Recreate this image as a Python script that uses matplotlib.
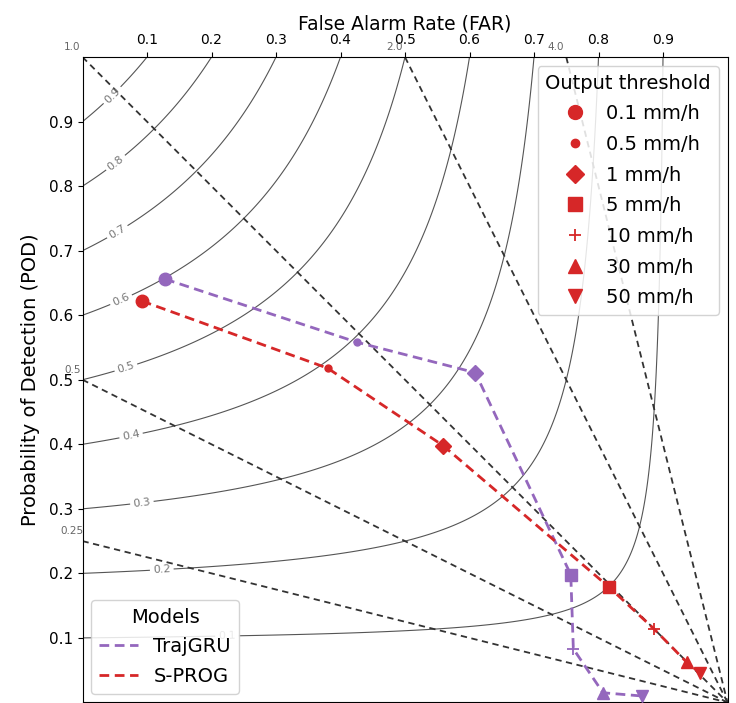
import numpy as np
import matplotlib
matplotlib.use("Agg")
import matplotlib.pyplot as plt
from matplotlib.lines import Line2D

# ---------------- data ----------------
thresholds = ["0.1 mm/h", "0.5 mm/h", "1 mm/h", "5 mm/h", "10 mm/h", "30 mm/h", "50 mm/h"]
markers = ["o", "o", "D", "s", "+", "^", "v"]

trajgru_far = [0.128, 0.426, 0.609, 0.757, 0.761, 0.807, 0.867]
trajgru_pod = [0.656, 0.558, 0.511, 0.198, 0.083, 0.015, 0.010]

sprog_far = [0.092, 0.380, 0.559, 0.816, 0.886, 0.937, 0.957]
sprog_pod = [0.622, 0.518, 0.398, 0.179, 0.114, 0.062, 0.046]

models = ["TrajGRU", "S-PROG"]
model_colors = ["#9467bd", "#d62728"]

csi_levels = [0.1, 0.2, 0.3, 0.4, 0.5, 0.6, 0.7, 0.8, 0.9]
bias_values = [0.25, 0.5, 1.0, 2.0, 4.0]
bias_labels = ["0.25", "0.5", "1.0", "2.0", "4.0"]
far_ticks = [0.1, 0.2, 0.3, 0.4, 0.5, 0.6, 0.7, 0.8, 0.9]
pod_ticks = [0.1, 0.2, 0.3, 0.4, 0.5, 0.6, 0.7, 0.8, 0.9]

# ---------------- figure ----------------
fig = plt.figure(figsize=(7.36, 7.03), dpi=100)
ax = fig.add_axes([82.5 / 736, 0.0008, 645 / 736, 0.918])
ax.set_xlim(0, 1)
ax.set_ylim(0, 1)

# CSI contours
far_g = np.linspace(0.0005, 0.9995, 400)
pod_g = np.linspace(0.0005, 0.9995, 400)
F, P = np.meshgrid(far_g, pod_g)
SR = 1 - F
CSI = 1.0 / (1.0 / SR + 1.0 / P - 1.0)
cs = ax.contour(F, P, CSI, levels=csi_levels, colors="#555555", linewidths=0.8, zorder=1)
label_pos = [(0.224, 0.105), (0.123, 0.204), (0.092, 0.310), (0.075, 0.415),
             (0.066, 0.523), (0.058, 0.628), (0.053, 0.731), (0.050, 0.838),
             (0.047, 0.940)]
lbls = ax.clabel(cs, fmt="%.1f", fontsize=8, manual=label_pos, inline=True, inline_spacing=3)
for t in lbls:
    t.set_color("#777777")

# Bias lines
for b, lab in zip(bias_values, bias_labels):
    if b >= 1:
        x0, y0 = 1 - 1.0 / b, 1.0
    else:
        x0, y0 = 0.0, b
    ax.plot([x0, 1.0], [y0, 0.0], linestyle=(0, (3.5, 2.5)), color="#333333", lw=1.3, zorder=2)
    ax.text(x0 - 0.016, y0 + 0.015, lab,
            fontsize=7.5, color="#666666", ha="center", va="center", clip_on=False)

# Data
msize = [9, 5, 8, 8.5, 8, 8.5, 8.5]
for far, pod, col in [(trajgru_far, trajgru_pod, model_colors[0]),
                      (sprog_far, sprog_pod, model_colors[1])]:
    ax.plot(far, pod, linestyle=(0, (3.5, 2)), color=col, lw=2, zorder=3)
    for i in range(len(far)):
        ax.plot(far[i], pod[i], marker=markers[i], color=col, markersize=msize[i],
                markeredgewidth=1.3 if markers[i] == "+" else 1, linestyle="none", zorder=4)

# Axes formatting
ax.xaxis.tick_top()
ax.xaxis.set_label_position("top")
ax.set_xticks(far_ticks)
ax.set_xticklabels([f"{v:.1f}" for v in far_ticks], fontsize=10)
ax.set_yticks(pod_ticks)
ax.set_yticklabels([f"{v:.1f}" for v in pod_ticks], fontsize=11)
ax.set_xlabel("False Alarm Rate (FAR)", fontsize=13.5, labelpad=3)
ax.set_ylabel("Probability of Detection (POD)", fontsize=14, labelpad=6)

# Legends
thr_handles = [Line2D([], [], marker=m, color=model_colors[1], linestyle="none",
                      markersize=s + 1, markeredgewidth=1.3 if m == "+" else 1)
               for m, s in zip(markers, msize)]
leg1 = ax.legend(thr_handles, thresholds, title="Output threshold", loc="upper right",
                 fontsize=14, title_fontsize=14, framealpha=0.85,
                 handletextpad=0.6, borderaxespad=0.45, labelspacing=0.6)
ax.add_artist(leg1)
mod_handles = [Line2D([], [], color=c, linestyle=(0, (3.5, 2)), lw=2) for c in model_colors]
ax.legend(mod_handles, models, title="Models", loc="lower left", fontsize=14,
          title_fontsize=14, framealpha=0.85, borderaxespad=0.45, labelspacing=0.55,
          handletextpad=0.8)

fig.savefig("out.png", dpi=100)
